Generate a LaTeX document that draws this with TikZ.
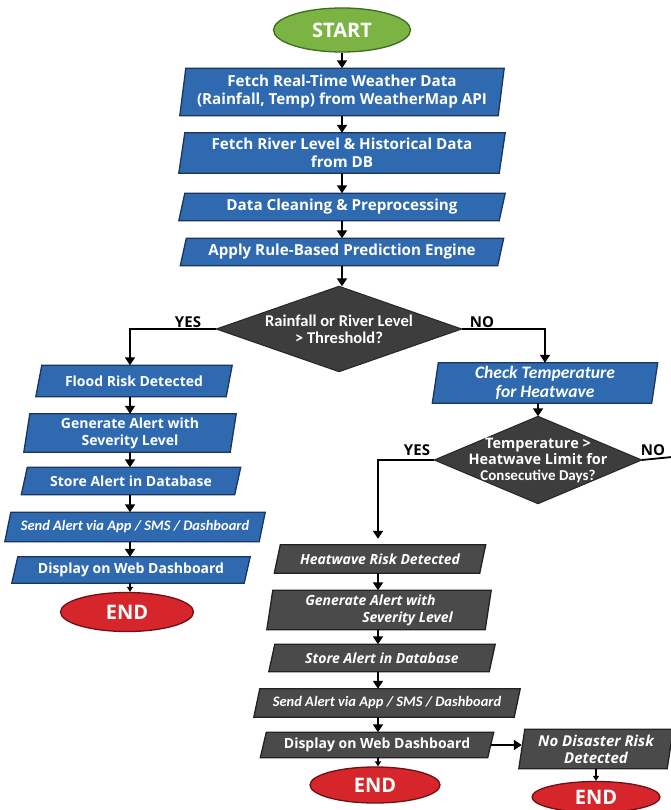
\documentclass[tikz,border=0pt]{standalone}
\usepackage{fontspec}
\setmainfont{Open Sans}
\newfontfamily\carl{Carlito}
\usetikzlibrary{shapes.geometric,arrows.meta,backgrounds}
\definecolor{bluef}{HTML}{2F6AB0}
\definecolor{bluee}{HTML}{1A355F}
\definecolor{greyf}{HTML}{4A4A4A}
\definecolor{greye}{HTML}{222222}
\definecolor{diaf}{HTML}{3D3D3D}
\definecolor{greenf}{HTML}{7BB443}
\definecolor{greene}{HTML}{3F6B22}
\definecolor{redf}{HTML}{D7262B}
\definecolor{rede}{HTML}{6E1014}
\begin{document}
\begin{tikzpicture}[x=1pt,y=-1pt,
  box/.style={rectangle, inner sep=0pt, text=white, align=center,
    font=\bfseries\fontsize{14}{17}\selectfont},
  mainf/.style={font=\bfseries\fontsize{15.2}{18}\selectfont},
  ital/.style={font=\bfseries\itshape\fontsize{14}{17}\selectfont},
  calit/.style={font=\carl\bfseries\itshape\fontsize{14.5}{18}\selectfont},
  startst/.style={ellipse, inner sep=0pt, fill=greenf, draw=greene, line width=1.3pt,
    text=white, font=\bfseries\fontsize{20}{22}\selectfont},
  endst/.style={ellipse, inner sep=0pt, fill=redf, draw=rede, line width=1.3pt,
    text=white, font=\bfseries\fontsize{20}{22}\selectfont},
  dia/.style={rectangle, inner sep=0pt,
    text=white, align=center, font=\carl\bfseries\fontsize{16.5}{17}\selectfont},
  arr/.style={line width=1.8pt, -{Triangle[width=10pt,length=8pt]}},
  tarr/.style={line width=1.2pt, -{Triangle[width=6pt,length=5pt]}},
  plain/.style={line width=1.8pt},
  lbl/.style={inner sep=0pt, font=\bfseries\fontsize{15}{17}\selectfont}
]
\useasboundingbox (0,0) rectangle (670,810);

% main column
\node[startst, minimum width=137pt, minimum height=44pt] (start) at (342,30) {START};
\node[box, mainf, minimum width=318pt, minimum height=47pt] (b1) at (342,92) {Fetch Real-Time Weather Data\\(Rainfall, Temp) from WeatherMap API};
\node[box, mainf, minimum width=320pt, minimum height=40pt] (b2) at (342,153) {Fetch River Level \& Historical Data\\from DB};
\node[box, mainf, minimum width=320pt, minimum height=27pt] (b3) at (342,207) {Data Cleaning \& Preprocessing};
\node[box, mainf, minimum width=317pt, minimum height=27pt] (b4) at (342,252) {Apply Rule-Based Prediction Engine};
\node[dia, minimum width=245pt, minimum height=85pt] (d1) at (339,329) {Rainfall or River Level\\> Threshold?};

% left column
\coordinate (lc) at (130,0);
\node[box, minimum width=190pt, minimum height=31pt] (flood) at (134,381) {Flood Risk Detected};
\node[box, minimum width=206pt, minimum height=38pt] (gen1) at (130,433) {Generate Alert with\\Severity Level};
\node[box, minimum width=213pt, minimum height=27pt] (store1) at (131,481) {Store Alert in Database};
\node[box, calit, minimum width=254pt, minimum height=29pt] (send1) at (135,527) {Send Alert via App / SMS / Dashboard};
\node[box, minimum width=232pt, minimum height=26pt] (disp1) at (131,570) {Display on Web Dashboard};
\node[endst, minimum width=133pt, minimum height=39pt] (end1) at (127,612) {END};

% right column
\node[box, font=\carl\bfseries\itshape\fontsize{17.5}{19}\selectfont, minimum width=219pt, minimum height=40pt] (check) at (545,383) {Check Temperature\\for Heatwave};
\node[dia, font=\bfseries\fontsize{14.5}{16}\selectfont, minimum width=207pt, minimum height=87pt] (d2) at (538,460) {Temperature >\\Heatwave Limit for\\{\carl\fontsize{15}{15}\selectfont Consecutive Days?}};

% grey column
\coordinate (gc) at (378,0);
\node[box, ital, minimum width=205pt, minimum height=28pt] (heat) at (380,559) {Heatwave Risk Detected};
\node[box, ital, align=left, minimum width=218pt, minimum height=39pt] (gen2) at (379,610) {Generate Alert with\\\hspace*{57pt}Severity Level};
\node[box, ital, minimum width=220pt, minimum height=27pt] (store2) at (382,658) {Store Alert in Database};
\node[box, calit, minimum width=260pt, minimum height=28pt] (send2) at (387,703) {Send Alert via App / SMS / Dashboard};
\node[box, minimum width=227pt, minimum height=25pt] (disp2) at (377,745) {Display on Web Dashboard};
\node[endst, minimum width=130pt, minimum height=36pt] (end2) at (375,785) {END};
\node[box, font=\bfseries\itshape\fontsize{15}{17}\selectfont, minimum width=148pt, minimum height=39pt] (nodis) at (596,749) {No Disaster Risk\\Detected};
\node[endst, minimum width=128pt, minimum height=31pt] (end3) at (596,797) {END};
\coordinate (noend) at (672,457);

% shapes behind the texts
\begin{scope}[on background layer]
\fill[white] (0,0) rectangle (670,810);
\foreach \n in {b1,b2,b3,b4,flood,gen1,store1,send1,disp1,check}{
  \filldraw[fill=bluef, draw=bluee, line width=1.3pt]
    ([xshift=3pt]\n.north west) -- ([xshift=3pt]\n.north east) --
    ([xshift=-3pt]\n.south east) -- ([xshift=-3pt]\n.south west) -- cycle;}
\foreach \n in {heat,gen2,store2,send2,disp2,nodis}{
  \filldraw[fill=greyf, draw=greye, line width=1.3pt]
    ([xshift=3pt]\n.north west) -- ([xshift=3pt]\n.north east) --
    ([xshift=-3pt]\n.south east) -- ([xshift=-3pt]\n.south west) -- cycle;}
\foreach \n in {d1,d2}{
  \filldraw[fill=diaf, draw=black!85, line width=1pt]
    (\n.north) -- (\n.east) -- (\n.south) -- (\n.west) -- cycle;}
\end{scope}

% connectors
\draw[arr] (start) -- (b1);
\draw[arr] (b1) -- (b2);
\draw[arr] (b2) -- (b3);
\draw[arr] (b3) -- (b4);
\draw[arr] (b4.south) -- (b4.south |- d1.north);
\draw[arr] (d1.west) -| (flood.north -| lc);
\draw[arr] (d1.east) -| (check.north);
\node[lbl] (yes1) at (188,322) {YES};
\node[lbl] (no1) at (482,322) {NO};
\draw[arr] (flood.south -| lc) -- (gen1.north -| lc);
\draw[arr] (gen1.south -| lc) -- (store1.north -| lc);
\draw[arr] (store1.south -| lc) -- (send1.north -| lc);
\draw[arr] (send1.south -| lc) -- (disp1.north -| lc);
\draw[tarr] (disp1.south -| lc) -- (end1.north -| lc);
\draw[arr] (check.south -| d2.north) -- (d2.north);
\draw[arr] (d2.west) -| ([yshift=6pt]heat.north -| gc);
\draw[plain] (d2.east) -- (noend);
\node[lbl] (yes2) at (417,450) {YES};
\node[lbl] (no2) at (653,450) {NO};
\draw[arr] (heat.south -| gc) -- (gen2.north -| gc);
\draw[arr] (gen2.south -| gc) -- (store2.north -| gc);
\draw[arr] (store2.south -| gc) -- (send2.north -| gc);
\draw[arr] (send2.south -| gc) -- (disp2.north -| gc);
\draw[tarr] (disp2.south -| gc) -- (end2.north -| gc);
\draw[arr] (disp2.east) -- (disp2.east -| nodis.west);
\draw[tarr] (nodis.south) -- (end3.north);
\end{tikzpicture}
\end{document}
